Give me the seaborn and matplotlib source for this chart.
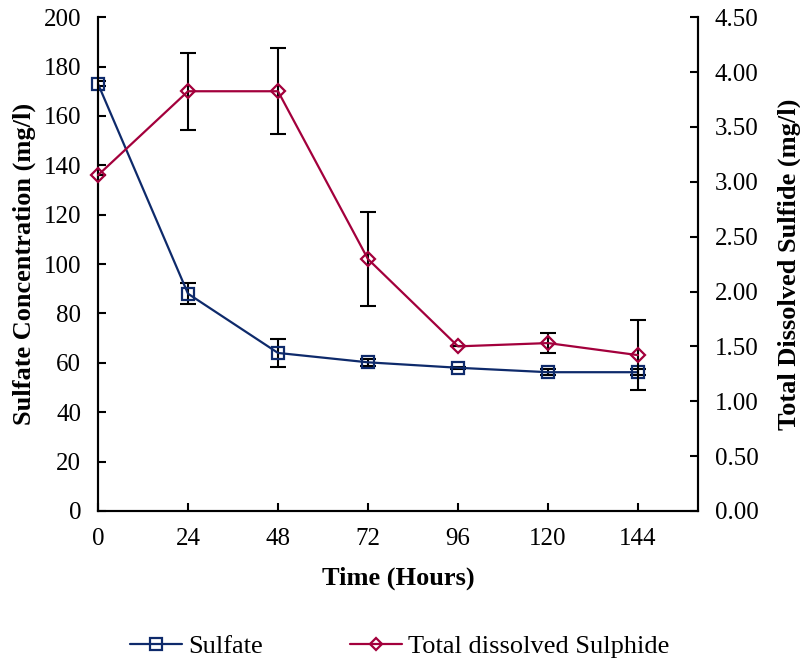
import matplotlib
matplotlib.use("Agg")
import matplotlib.pyplot as plt
import seaborn as sns
import pandas as pd
from matplotlib.lines import Line2D

hours = [0, 24, 48, 72, 96, 120, 144]
sulfate = [173, 88, 64, 60.2, 58, 56.2, 56.2]
sulfate_err = [1.0, 4.3, 5.7, 1.5, 0.5, 1.2, 1.2]
sulfide = [3.06, 3.825, 3.825, 2.295, 1.50, 1.53, 1.42]
sulfide_err = [0.0, 0.35, 0.39, 0.43, 0.0, 0.095, 0.32]
left_ticks = [0, 20, 40, 60, 80, 100, 120, 140, 160, 180, 200]
right_ticks = [0, 0.5, 1.0, 1.5, 2.0, 2.5, 3.0, 3.5, 4.0, 4.5]

c_sulfate = "#0E2A6B"
c_sulfide = "#A3003C"

sns.set_style("ticks")
plt.rcParams["font.family"] = ["Liberation Serif", "DejaVu Serif"]
plt.rcParams["text.color"] = "black"
plt.rcParams["axes.labelcolor"] = "black"

df = pd.DataFrame({"Hours": hours, "Sulfate": sulfate, "SErr": sulfate_err,
                   "Sulfide": sulfide, "DErr": sulfide_err})

fig = plt.figure(figsize=(8, 6.61), dpi=100)
ax = fig.add_axes([0.1225, 0.227, 0.75, 0.747])
ax2 = ax.twinx()

ax.errorbar(df["Hours"], df["Sulfate"], yerr=df["SErr"], fmt="none", ecolor="black",
            elinewidth=1.5, capsize=6, capthick=1.5, zorder=2)
sns.lineplot(data=df, x="Hours", y="Sulfate", ax=ax, color=c_sulfate, lw=1.6,
             marker="s", markersize=9, markerfacecolor="none", markeredgecolor=c_sulfate,
             markeredgewidth=1.6, zorder=3, clip_on=False)

ax2.errorbar(df["Hours"], df["Sulfide"], yerr=df["DErr"], fmt="none", ecolor="black",
             elinewidth=1.5, capsize=6, capthick=1.5, zorder=2)
sns.lineplot(data=df, x="Hours", y="Sulfide", ax=ax2, color=c_sulfide, lw=1.6,
             marker="D", markersize=7, markerfacecolor="none", markeredgecolor=c_sulfide,
             markeredgewidth=1.6, zorder=3, clip_on=False)

fs = 18
lfs = 19
ax.set_xlim(0, 160)
ax.set_xticks(hours)
ax.set_xticklabels([str(h) for h in hours], fontsize=fs)
ax.set_ylim(0, 200)
ax.set_yticks(left_ticks)
ax.set_yticklabels([str(t) for t in left_ticks], fontsize=fs)
ax2.set_ylim(0, 4.5)
ax2.set_yticks(right_ticks)
ax2.set_yticklabels([f"{t:.2f}" for t in right_ticks], fontsize=fs)

ax.set_xlabel("Time (Hours)", fontsize=lfs, fontweight="bold", labelpad=12)
ax.set_ylabel("Sulfate Concentration (mg/l)", fontsize=lfs, fontweight="bold", labelpad=6)
ax2.set_ylabel("Total Dissolved Sulfide (mg/l)", fontsize=lfs, fontweight="bold", labelpad=14)

for a in (ax, ax2):
    a.spines["top"].set_visible(False)
    for s in ("left", "right", "bottom"):
        a.spines[s].set_linewidth(1.5)
        a.spines[s].set_color("black")
    a.tick_params(width=1.5, length=6, colors="black", direction="in")
ax.tick_params(axis="y", pad=12)
ax2.tick_params(axis="y", pad=12)
ax.tick_params(axis="x", pad=12)

handles = [
    Line2D([], [], color=c_sulfate, lw=1.6, marker="s", markersize=8,
           markerfacecolor="none", markeredgecolor=c_sulfate, markeredgewidth=1.6),
    Line2D([], [], color=c_sulfide, lw=1.6, marker="D", markersize=6,
           markerfacecolor="none", markeredgecolor=c_sulfide, markeredgewidth=1.6),
]
fig.legend(handles, ["Sulfate", "Total dissolved Sulphide"], loc="center",
           bbox_to_anchor=(0.5, 0.022), ncol=2, frameon=False, fontsize=lfs,
           handlelength=1.95, columnspacing=3.3, handletextpad=0.25)

fig.savefig("out.png", dpi=100)
